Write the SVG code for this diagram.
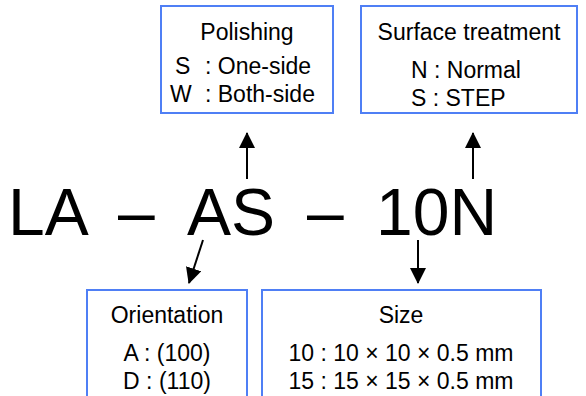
<svg xmlns="http://www.w3.org/2000/svg" width="586" height="396" viewBox="0 0 586 396">
<defs>
<style>
.box{fill:#fff;stroke:#4f7ff5;stroke-width:2}
.t{font-family:"Liberation Sans",Arial,sans-serif;font-size:23px;fill:#000}
.big{font-family:"Liberation Sans",Arial,sans-serif;font-size:66px;fill:#000}
.c{stroke:#000;stroke-width:2;fill:none}
</style>
<marker id="ah" viewBox="0 0 16 16" refX="15" refY="8" markerWidth="16" markerHeight="16" markerUnits="userSpaceOnUse" orient="auto">
<path d="M0,0 L16,8 L0,16 Z" fill="#000"/>
</marker>
</defs>
<rect width="586" height="396" fill="#fff"/>
<g id="code">
<text class="big" x="8" y="235">LA</text>
<text class="big" x="118" y="235">–</text>
<text class="big" x="187" y="235">AS</text>
<text class="big" x="307" y="235">–</text>
<text class="big" x="376" y="235">10N</text>
</g>
<g id="polishing">
<rect class="box" x="161" y="6" width="172" height="107"/>
<text class="t" x="247" y="40" text-anchor="middle">Polishing</text>
<text class="t" x="175" y="74">S</text><text class="t" x="205" y="74">: One-side</text>
<text class="t" x="170" y="102">W</text><text class="t" x="205" y="102">: Both-side</text>
</g>
<g id="surface">
<rect class="box" x="361" y="6" width="216" height="107"/>
<text class="t" x="469" y="40" text-anchor="middle">Surface treatment</text>
<text class="t" x="411" y="78">N : Normal</text>
<text class="t" x="411" y="106">S : STEP</text>
</g>
<g id="orientation">
<rect class="box" x="87" y="290" width="160" height="110"/>
<text class="t" x="167" y="323" text-anchor="middle">Orientation</text>
<text class="t" x="167" y="361" text-anchor="middle">A : (100)</text>
<text class="t" x="167" y="389" text-anchor="middle">D : (110)</text>
</g>
<g id="size">
<rect class="box" x="262" y="290" width="279" height="110"/>
<text class="t" x="401" y="323" text-anchor="middle">Size</text>
<text class="t" x="401" y="361" text-anchor="middle">10 : 10 × 10 × 0.5 mm</text>
<text class="t" x="401" y="389" text-anchor="middle">15 : 15 × 15 × 0.5 mm</text>
</g>
<g id="connectors">
<line class="c" x1="247" y1="179" x2="247" y2="133" marker-end="url(#ah)"/>
<line class="c" x1="473" y1="179" x2="473" y2="133" marker-end="url(#ah)"/>
<line class="c" x1="203" y1="240" x2="189" y2="283" marker-end="url(#ah)"/>
<line class="c" x1="418" y1="240" x2="418" y2="283" marker-end="url(#ah)"/>
</g>
</svg>
